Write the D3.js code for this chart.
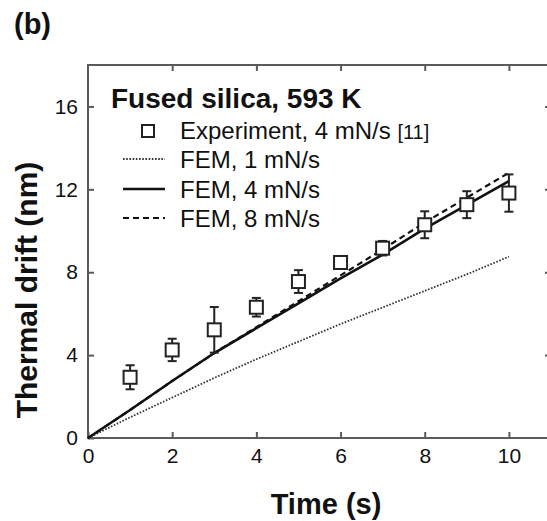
<!DOCTYPE html>
<html>
<head>
<meta charset="utf-8">
<script src="https://cdn.jsdelivr.net/npm/d3@7"></script>
<style>
  html, body { margin: 0; padding: 0; background: #fff; }
  svg { display: block; }
  text { font-family: "Liberation Sans", Arial, Helvetica, sans-serif; fill: #111; }
</style>
</head>
<body>
<svg id="chart" width="547" height="521"></svg>
<script>
// Measured thermal drift, fused silica at 593 K
const expTime  = [1, 2, 3, 4, 5, 6, 7, 8, 9, 10];
const expDrift = [2.93, 4.25, 5.22, 6.31, 7.55, 8.47, 9.16, 10.29, 11.26, 11.82];
const expErr   = [0.58, 0.54, 1.1, 0.45, 0.55, 0.3, 0.35, 0.65, 0.65, 0.9];

// FEM predictions at three loading rates
const femTime = [0, 1, 2, 3, 4, 5, 6, 7, 8, 9, 10];
const fem1 = [0, 1.0, 1.95, 2.9, 3.8, 4.65, 5.5, 6.3, 7.1, 7.9, 8.75];
const fem4 = [0, 1.35, 2.75, 4.1, 5.3, 6.5, 7.7, 8.85, 10.1, 11.25, 12.4];
const fem8 = [0, 1.35, 2.75, 4.1, 5.35, 6.6, 7.85, 9.1, 10.4, 11.6, 12.8];

const xTicks = [0, 2, 4, 6, 8, 10];
const yTicks = [0, 4, 8, 12, 16];

const legendTitle = "Fused silica, 593 K";
const legendLabels = ["Experiment, 4 mN/s", "FEM, 1 mN/s", "FEM, 4 mN/s", "FEM, 8 mN/s"];
const legendRef = "[11]";

const svg = d3.select("#chart");
const m = { left: 88, top: 65 };
const W = 463, H = 373;

const x = d3.scaleLinear().domain([0, 11]).range([m.left, m.left + W]);
const y = d3.scaleLinear().domain([0, 18]).range([m.top + H, m.top]);

const frameColor = "#5a5a5a";
const tickLen = 6;

// Frame
svg.append("rect")
  .attr("x", x(0)).attr("y", y(18))
  .attr("width", x(11) - x(0)).attr("height", y(0) - y(18))
  .attr("fill", "none").attr("stroke", frameColor).attr("stroke-width", 2);

// Axes with inward ticks
const fmt = d3.format("d");
const axBottom = svg.append("g").attr("transform", `translate(0,${y(0)})`)
  .call(d3.axisBottom(x).tickValues(xTicks).tickFormat(fmt).tickSizeInner(-tickLen).tickSizeOuter(0).tickPadding(9));
const axLeft = svg.append("g").attr("transform", `translate(${x(0)},0)`)
  .call(d3.axisLeft(y).tickValues(yTicks).tickFormat(fmt).tickSizeInner(-tickLen).tickSizeOuter(0).tickPadding(10));
const axTop = svg.append("g").attr("transform", `translate(0,${y(18)})`)
  .call(d3.axisTop(x).tickValues(xTicks.slice(1)).tickFormat("").tickSizeInner(-tickLen).tickSizeOuter(0));
const axRight = svg.append("g").attr("transform", `translate(${x(11)},0)`)
  .call(d3.axisRight(y).tickValues(yTicks.slice(1)).tickFormat("").tickSizeInner(-tickLen).tickSizeOuter(0));

[axBottom, axLeft, axTop, axRight].forEach(g => {
  g.select(".domain").remove();
  g.selectAll(".tick line").attr("stroke", frameColor).attr("stroke-width", 2);
  g.selectAll(".tick text").attr("font-size", 21).attr("fill", "#222")
    .style("font-family", '"Liberation Sans", Arial, sans-serif');
});
axBottom.selectAll(".tick text").attr("dy", "0.75em");

// FEM curves
const line = d3.line().x((d, i) => x(femTime[i])).y(d => y(d));
svg.append("path").datum(fem1).attr("d", line)
  .attr("fill", "none").attr("stroke", "#333").attr("stroke-width", 1.8)
  .attr("stroke-dasharray", "1.6,1.6");
svg.append("path").datum(fem8).attr("d", line)
  .attr("fill", "none").attr("stroke", "#111").attr("stroke-width", 2.2)
  .attr("stroke-dasharray", "6,4");
svg.append("path").datum(fem4).attr("d", line)
  .attr("fill", "none").attr("stroke", "#111").attr("stroke-width", 2.6);

// Experimental points with error bars
const pts = svg.append("g").selectAll("g").data(expTime).join("g");
const cap = 4.5, half = 6.5;
pts.append("line")
  .attr("x1", d => x(d)).attr("x2", d => x(d))
  .attr("y1", (d, i) => y(expDrift[i] - expErr[i])).attr("y2", (d, i) => y(expDrift[i] + expErr[i]))
  .attr("stroke", "#222").attr("stroke-width", 2);
pts.append("line")
  .attr("x1", d => x(d) - cap).attr("x2", d => x(d) + cap)
  .attr("y1", (d, i) => y(expDrift[i] + expErr[i])).attr("y2", (d, i) => y(expDrift[i] + expErr[i]))
  .attr("stroke", "#222").attr("stroke-width", 2);
pts.append("line")
  .attr("x1", d => x(d) - cap).attr("x2", d => x(d) + cap)
  .attr("y1", (d, i) => y(expDrift[i] - expErr[i])).attr("y2", (d, i) => y(expDrift[i] - expErr[i]))
  .attr("stroke", "#222").attr("stroke-width", 2);
pts.append("rect")
  .attr("x", d => x(d) - half).attr("y", (d, i) => y(expDrift[i]) - half)
  .attr("width", 2 * half).attr("height", 2 * half)
  .attr("fill", "#fff").attr("stroke", "#222").attr("stroke-width", 2);

// Legend
const lg = svg.append("g");
lg.append("text").attr("x", 111).attr("y", 108)
  .attr("font-size", 28).attr("font-weight", "bold").text(legendTitle);
const rowY = [139, 168, 198, 227];
const lx = 180;
const expLabel = lg.append("text").attr("x", lx).attr("y", rowY[0]).attr("font-size", 24).attr("fill", "#222");
expLabel.append("tspan").text(legendLabels[0] + " ");
expLabel.append("tspan").attr("font-size", 20).text(legendRef);
lg.append("rect").attr("x", 148 - 6).attr("y", rowY[0] - 14).attr("width", 12).attr("height", 12)
  .attr("fill", "#fff").attr("stroke", "#222").attr("stroke-width", 2);
const styles = [
  { w: 1.8, dash: "1.6,1.6", c: "#333" },
  { w: 2.6, dash: null, c: "#111" },
  { w: 2.2, dash: "6,4", c: "#111" }
];
styles.forEach((s, i) => {
  const yy = rowY[i + 1] - 9;
  lg.append("line").attr("x1", 123).attr("x2", 165).attr("y1", yy).attr("y2", yy)
    .attr("stroke", s.c).attr("stroke-width", s.w).attr("stroke-dasharray", s.dash);
  lg.append("text").attr("x", lx).attr("y", rowY[i + 1]).attr("font-size", 24).attr("fill", "#222")
    .text(legendLabels[i + 1]);
});

// Axis titles and panel label
svg.append("text").attr("x", 326).attr("y", 514).attr("text-anchor", "middle")
  .attr("font-size", 29).attr("font-weight", "bold").text("Time (s)");
svg.append("text").attr("transform", "translate(37,290) rotate(-90)").attr("text-anchor", "middle")
  .attr("font-size", 30).attr("font-weight", "bold").text("Thermal drift (nm)");
svg.append("text").attr("x", 14).attr("y", 34)
  .attr("font-size", 29).attr("font-weight", "bold").text("(b)");
</script>
</body>
</html>
